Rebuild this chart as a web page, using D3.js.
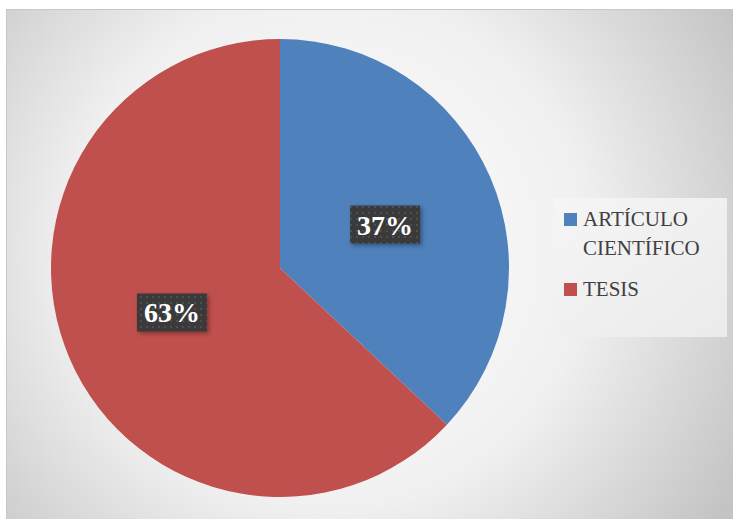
<!DOCTYPE html>
<html>
<head>
<meta charset="utf-8">
<script src="https://cdn.jsdelivr.net/npm/d3@7"></script>
<style>
  body { margin: 0; background: #fff; }
  svg { display: block; }
</style>
</head>
<body>
<div id="chart"></div>
<script>
// Data
var categories = ["ARTÍCULO CIENTÍFICO", "TESIS"];
var values = [37, 63];
var legendLines = [["ARTÍCULO", "CIENTÍFICO"], ["TESIS"]];
var colors = ["#4F81BD", "#C0504D"];

var width = 733, height = 519;

var svg = d3.select("#chart").append("svg")
    .attr("width", width)
    .attr("height", height);

var defs = svg.append("defs");

// Radial background gradient
var bg = defs.append("radialGradient")
    .attr("id", "bgGrad")
    .attr("gradientUnits", "userSpaceOnUse")
    .attr("cx", 330).attr("cy", 250).attr("r", 470)
    .attr("fx", 330).attr("fy", 250);
bg.append("stop").attr("offset", "0%").attr("stop-color", "#ffffff");
bg.append("stop").attr("offset", "55%").attr("stop-color", "#f0f0f0");
bg.append("stop").attr("offset", "100%").attr("stop-color", "#c4c4c4");

// Dotted pattern for data label boxes
var pat = defs.append("pattern")
    .attr("id", "dots")
    .attr("patternUnits", "userSpaceOnUse")
    .attr("width", 6).attr("height", 6);
pat.append("rect").attr("width", 6).attr("height", 6).attr("fill", "#3a3a3a");
pat.append("rect").attr("x", 2).attr("y", 2).attr("width", 2).attr("height", 2).attr("fill", "#4e4e4e");

var legGrad = defs.append("linearGradient")
    .attr("id", "legGrad")
    .attr("x1", 0).attr("y1", 0).attr("x2", 1).attr("y2", 1);
legGrad.append("stop").attr("offset", "0%").attr("stop-color", "#f5f5f5");
legGrad.append("stop").attr("offset", "100%").attr("stop-color", "#ebebeb");

// Chart area
svg.append("rect")
    .attr("x", 6.5).attr("y", 9.5)
    .attr("width", width - 6).attr("height", height - 9)
    .attr("fill", "url(#bgGrad)")
    .attr("stroke", "#c8c8c8")
    .attr("stroke-width", 1);

var cx = 280, cy = 268, radius = 229;

var pie = d3.pie().sort(null).value(d => d);
var arc = d3.arc().innerRadius(0).outerRadius(radius);
var labelArc = d3.arc().innerRadius(radius * 0.5).outerRadius(radius * 0.5);

var arcs = pie(values);

svg.selectAll("path.slice")
    .data(arcs)
    .enter().append("path")
    .attr("class", "slice")
    .attr("transform", `translate(${cx},${cy})`)
    .attr("d", arc)
    .attr("fill", (d, i) => colors[i]);

// Data labels
var labelOffsets = [[0, 2], [-3, -1]];
var labelPos = arcs.map(function (d, i) {
    var c = labelArc.centroid(d);
    return [cx + c[0] + labelOffsets[i][0], cy + c[1] + labelOffsets[i][1]];
});

svg.selectAll("rect.labbox")
    .data(arcs)
    .enter().append("rect")
    .attr("class", "labbox")
    .attr("x", (d, i) => labelPos[i][0] - 35)
    .attr("y", (d, i) => labelPos[i][1] - 19)
    .attr("width", 70).attr("height", 38)
    .attr("fill", "url(#dots)")
    .style("filter", "drop-shadow(2px 2px 2px rgba(0,0,0,0.35))");

svg.selectAll("text.lab")
    .data(arcs)
    .enter().append("text")
    .attr("class", "lab")
    .attr("font-family", "Liberation Serif")
    .attr("font-weight", "bold")
    .attr("font-size", 28)
    .attr("text-anchor", "middle")
    .attr("x", (d, i) => labelPos[i][0])
    .attr("y", (d, i) => labelPos[i][1] + 10)
    .attr("fill", "#ffffff")
    .text(d => d.data + "%");

// Legend
svg.append("rect")
    .attr("x", 553).attr("y", 198)
    .attr("width", 174).attr("height", 139)
    .attr("fill", "url(#legGrad)");

var legendY = [213, 283];
svg.selectAll("rect.key")
    .data(categories)
    .enter().append("rect")
    .attr("class", "key")
    .attr("x", 564)
    .attr("y", (d, i) => legendY[i])
    .attr("width", 13).attr("height", 13)
    .attr("fill", (d, i) => colors[i]);

legendLines.forEach(function (lines, i) {
    lines.forEach(function (line, j) {
        svg.append("text")
            .attr("font-family", "Liberation Serif")
            .attr("font-size", 21)
            .attr("x", 583)
            .attr("y", legendY[i] + 13 + j * 29)
            .attr("fill", "#404040")
            .text(line);
    });
});
</script>
</body>
</html>
